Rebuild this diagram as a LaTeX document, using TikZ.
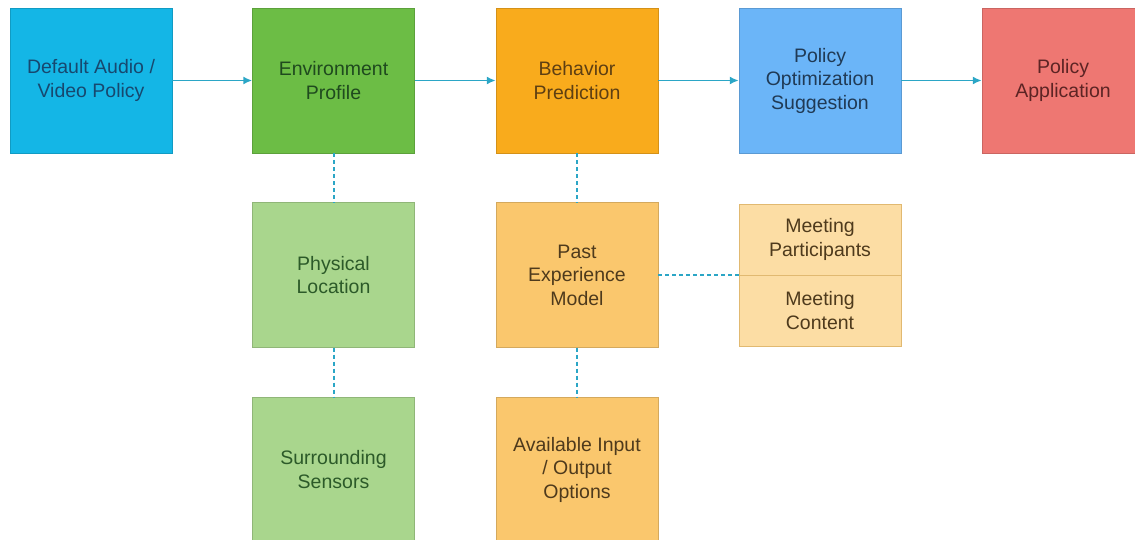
\documentclass[tikz,border=0pt]{standalone}
\usepackage{fontspec}
\setmainfont{Liberation Sans}
\usetikzlibrary{arrows.meta, positioning}
\definecolor{cyanbox}{HTML}{14B6E6}
\definecolor{greenbox}{HTML}{6CBD45}
\definecolor{orangebox}{HTML}{F9AB1C}
\definecolor{bluebox}{HTML}{6BB5F8}
\definecolor{redbox}{HTML}{EE7772}
\definecolor{lgreenbox}{HTML}{A9D68D}
\definecolor{lorangebox}{HTML}{FAC76D}
\definecolor{peachbox}{HTML}{FCDDA4}
\definecolor{linkcol}{HTML}{2BA6C6}
\definecolor{cyantext}{HTML}{17486F}
\definecolor{greentext}{HTML}{1F4A1E}
\definecolor{orangetext}{HTML}{5E3F12}
\definecolor{bluetext}{HTML}{203A55}
\definecolor{redtext}{HTML}{5C2424}
\definecolor{lgreentext}{HTML}{2C5A29}
\definecolor{lorangetext}{HTML}{4E3A1C}
\tikzset{
  blk/.style={minimum width=162pt, minimum height=145pt, inner sep=0pt,
    align=center, font=\fontsize{19.5}{23.5}\selectfont},
  half/.style={minimum width=162pt, minimum height=70.5pt, inner sep=0pt,
    align=center, font=\fontsize{19.5}{23.5}\selectfont,
    fill=peachbox, draw=lorangebox!80!gray, text=lorangetext},
  flow/.style={-{Latex[length=9pt,width=8pt]}, draw=linkcol, line width=1.8pt},
  dep/.style={draw=linkcol, line width=2pt, dash pattern=on 4pt off 3pt}
}

\begin{document}
\begin{tikzpicture}[x=1pt, y=-1pt]
\useasboundingbox (0,0) rectangle (1135,540);
% top row
\node[blk, fill=cyanbox, draw=cyanbox!85!black, text=cyantext] (dflt) at (91,80.5) {Default Audio /\\Video Policy};
\node[blk, fill=greenbox, draw=greenbox!85!black, text=greentext] (env) at (333.5,80.5) {Environment\\Profile};
\node[blk, fill=orangebox, draw=orangebox!85!black, text=orangetext] (behav) at (577,80.5) {Behavior\\Prediction};
\node[blk, fill=bluebox, draw=bluebox!85!black, text=bluetext] (optim) at (820,80.5) {Policy\\Optimization\\Suggestion};
\node[blk, fill=redbox, draw=redbox!85!black, text=redtext] (apply) at (1063,80.5) {Policy\\Application};
% second and third rows
\node[blk, fill=lgreenbox, draw=lgreenbox!85!black, text=lgreentext] (phys) at (333.5,275) {Physical\\Location};
\node[blk, fill=lgreenbox, draw=lgreenbox!85!black, text=lgreentext] (sens) at (333.5,469.5) {Surrounding\\Sensors};
\node[blk, fill=lorangebox, draw=lorangebox!85!black, text=lorangetext] (past) at (577,275) {Past\\Experience\\Model};
\node[blk, fill=lorangebox, draw=lorangebox!85!black, text=lorangetext] (avail) at (577,469.5) {Available Input\\/ Output\\Options};
\node[half, anchor=south] (part) at (820,275) {Meeting\\Participants};
\node[half, anchor=north] (cont) at (820,275) {Meeting\\Content};

\draw[flow] (dflt) -- (env);
\draw[flow] (env) -- (behav);
\draw[flow] (behav) -- (optim);
\draw[flow] (optim) -- (apply);
\draw[dep] (env) -- (phys);
\draw[dep] (phys) -- (sens);
\draw[dep] (behav) -- (past);
\draw[dep] (past) -- (avail);
\draw[dep] (past.east) -- (part.south west);
\end{tikzpicture}
\end{document}
